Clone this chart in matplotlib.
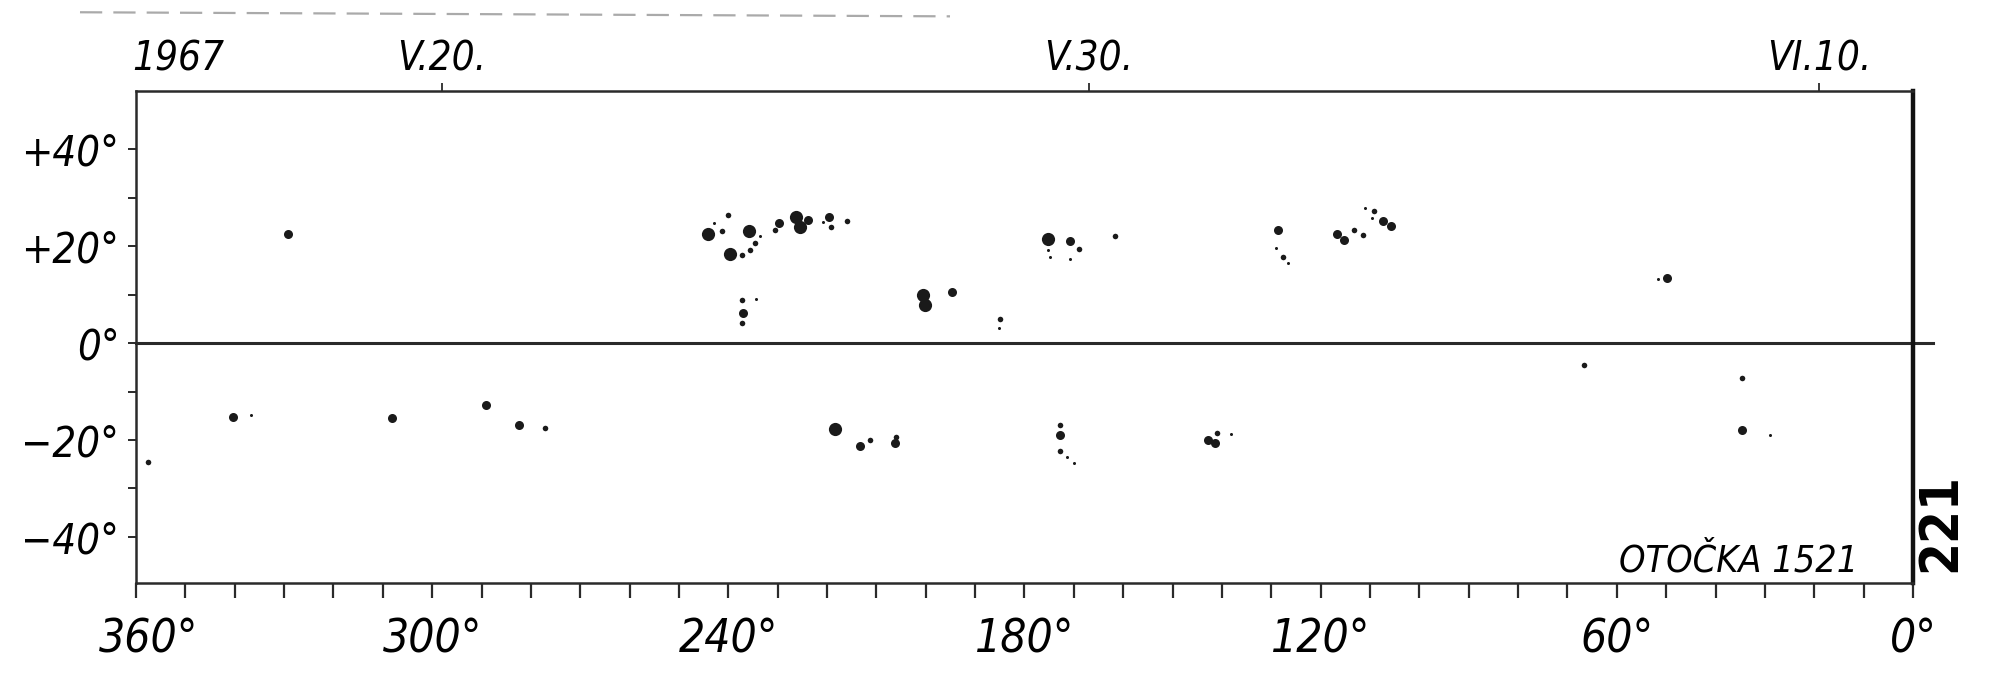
import matplotlib.pyplot as plt
from matplotlib.lines import Line2D
from matplotlib.transforms import ScaledTranslation
import numpy as np

# Carrington longitude / latitude of sunspots
lon = [329.2, 340.3, 336.7, 308.1, 289.0, 282.5, 277.1, 357.5,
       244.1, 241.2, 240.1, 243.0, 235.9, 239.7, 237.3, 235.6, 234.6, 233.6,
       229.7, 230.5, 226.2, 225.5, 223.8, 219.7, 219.1, 216.0, 220.8,
       237.3, 234.4, 237.0, 237.2,
       200.5, 200.2, 194.7, 185.0, 185.2,
       175.2, 170.8, 168.9, 175.3, 174.8, 170.8, 161.7,
       128.7, 129.0, 127.7, 126.7, 116.7, 115.2, 113.2, 111.5, 111.0, 109.1,
       109.5, 107.3, 105.7,
       218.4, 213.3, 211.4, 206.2, 206.0, 172.8, 172.8, 172.8, 171.4, 169.9,
       142.8, 141.4, 141.0, 138.2,
       49.8, 51.6, 66.7, 34.6, 34.6, 29.0]
lat = [22.6, -15.2, -14.8, -15.4, -12.8, -16.9, -17.5, -24.5,
       22.6, 23.1, 26.5, 24.7, 23.2, 18.4, 18.1, 19.3, 20.6, 22.1,
       24.9, 23.4, 26.0, 24.0, 25.4, 26.0, 24.0, 25.2, 25.0,
       8.9, 9.2, 6.2, 4.1,
       9.9, 7.8, 10.5, 4.9, 3.2,
       21.4, 21.0, 19.4, 19.2, 17.8, 17.3, 22.1,
       23.3, 19.6, 17.8, 16.6, 22.6, 21.2, 23.4, 22.4, 27.8, 27.2,
       25.8, 25.2, 24.1,
       -17.8, -21.2, -19.9, -20.7, -19.4, -19.0, -16.9, -22.3, -23.4, -24.7,
       -20.0, -20.7, -18.6, -18.8,
       13.4, 13.2, -4.5, -7.1, -17.9, -19.0]
# spot size class: 0 tiny .. 3 large
size = [2, 2, 0, 2, 2, 2, 1, 1,
        3, 1, 1, 0, 3, 3, 1, 1, 1, 0,
        2, 1, 3, 3, 2, 2, 1, 1, 0,
        1, 0, 2, 1,
        3, 3, 2, 1, 0,
        3, 2, 1, 0, 0, 0, 1,
        2, 0, 1, 0, 2, 2, 1, 1, 0, 1,
        0, 2, 2,
        3, 2, 1, 2, 1, 2, 1, 1, 0, 0,
        2, 2, 1, 0,
        2, 0, 1, 1, 2, 0]

lon_ticks = [360, 300, 240, 180, 120, 60, 0]
lat_ticks = [40, 20, 0, -20, -40]
lat_labels = ['+40°', '+20°', '0°', '−20°', '−40°']
date_pos = [298, 167, 19]
date_labels = ['V.20.', 'V.30.', 'VI.10.']

plt.rcParams['font.family'] = 'DejaVu Sans'
hand = dict(family='DejaVu Sans', style='oblique', stretch='condensed')

fig = plt.figure(figsize=(20, 6.81), dpi=100)
ax = fig.add_axes([0.068, 0.144, 0.8885, 0.722])
ax.set_xlim(360, 0)
ax.set_ylim(-49.5, 52)

ms_map = {0: 2.2, 1: 4.0, 2: 6.5, 3: 9.5}
for x, y, s in zip(lon, lat, size):
    ax.plot(x, y, 'o', color='#1a1a1a', ms=ms_map[s], mec='none')

# equator, running a bit past the right frame
ax.plot([360, -4], [0, 0], color='#2a2a2a', lw=2.2, clip_on=False)

for side in ['left', 'top', 'bottom']:
    ax.spines[side].set_linewidth(1.8)
    ax.spines[side].set_color('#2a2a2a')
ax.spines['right'].set_linewidth(3.2)
ax.spines['right'].set_color('#111111')

ax.set_xticks(lon_ticks)
ax.set_xticklabels([f'{t}°' for t in lon_ticks], fontsize=33, **hand)
ax.set_xticks(np.arange(0, 361, 10), minor=True)
ax.tick_params(axis='x', which='both', direction='out', length=11, width=1.6,
               color='#2a2a2a', pad=14)
first = ax.get_xticklabels()[0]
first.set_transform(first.get_transform() + ScaledTranslation(9 / 72, 0, fig.dpi_scale_trans))

ax.set_yticks(lat_ticks)
ax.set_yticklabels(lat_labels, fontsize=30, **hand)
ax.set_yticks([-30, -10, 10, 30], minor=True)
ax.tick_params(axis='y', which='both', direction='out', length=6, width=1.4,
               color='#2a2a2a', pad=6)

top = ax.twiny()
top.set_xlim(ax.get_xlim())
top.set_xticks(date_pos)
top.set_xticklabels(date_labels, fontsize=29, **hand)
top.tick_params(axis='x', direction='out', length=6, width=1.3, pad=3, color='#2a2a2a')
for sp in top.spines.values():
    sp.set_visible(False)
ax.annotate('1967', xy=(351.5, 1), xycoords=('data', 'axes fraction'),
            xytext=(0, 9), textcoords='offset points', ha='center', va='bottom',
            fontsize=29, **hand)

ax.text(11, -45, 'OTOČKA 1521', fontsize=27, ha='right', va='center', **hand)
ax.text(-5.5, -37, '221', fontsize=38, fontweight='bold', rotation=90,
        family='DejaVu Sans', stretch='condensed', ha='center', va='center',
        clip_on=False)

# faint scan marks along the upper edge
fig.add_artist(Line2D([0.04, 0.475], [0.982, 0.976], color='#aaaaaa', lw=1.6,
                      ls=(0, (10, 5))))

fig.savefig('out.png', dpi=100)
